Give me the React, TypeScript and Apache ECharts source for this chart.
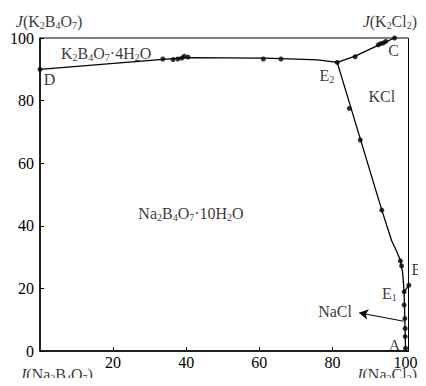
import React, { useEffect, useRef } from "react";
import * as echarts from "echarts";

// ---- data ----
const xTickValues = [20, 40, 60, 80, 100];

// phase boundary curves [J(Na2Cl2), J(K2B4O7)]
const curveDE2 = [[0, 90], [33.6, 93.2], [40.5, 93.7], [61, 93.6], [66, 93.4], [76, 93.0], [81.3, 92.2]];
const curveE2C = [[81.3, 92.2], [86.2, 94.2], [93.5, 98.2], [97, 100]];
const curveE2E1 = [[81.3, 92.2], [93.5, 45], [96.2, 35.2], [97.7, 31.5], [98.6, 28.8], [99.2, 25], [99.6, 18.9]];
const curveE1A = [[99.6, 18.9], [99.8, 10], [100, 0]];
const curveBE1 = [[100.9, 21], [99.6, 18.9]];

// experimental points
const pointsX = [0, 33.6, 36.4, 37.7, 38.8, 39.5, 40.5, 61.1, 65.9, 81.3, 86.2, 92.5, 93.2, 93.9, 94.6, 97,
  84.6, 87.6, 93.5, 98.6, 98.9, 100.9, 99.6, 99.6, 99.8, 99.9, 99.9, 100];
const pointsY = [90, 93.3, 93.1, 93.3, 93.6, 94.2, 93.9, 93.3, 93.3, 92.2, 94.0, 97.8, 98.2, 98.4, 98.9, 100,
  77.5, 67.4, 45.0, 28.8, 27.2, 21, 18.9, 14.7, 10.4, 7.2, 4.6, 0.9];

// NaCl arrow (from line to label)
const arrowFrom = [99.5, 9.5];
const arrowTo = [87.3, 12.2];

// annotations
const annText = [
  "{it|J}(K{sub|2}B{sub|4}O{sub|7})",
  "{it|J}(K{sub|2}Cl{sub|2})",
  "{it|J}(Na{sub|2}B{sub|4}O{sub|7})",
  "{it|J}(Na{sub|2}Cl{sub|2})",
  "K{sub|2}B{sub|4}O{sub|7}·4H{sub|2}O",
  "D",
  "E{sub|2}",
  "C",
  "KCl",
  "Na{sub|2}B{sub|4}O{sub|7}·10H{sub|2}O",
  "B",
  "E{sub|1}",
  "NaCl",
  "A",
];
const annX = [2.5, 95.7, 4.4, 94.7, 18.1, 2.6, 78.5, 96.7, 93.5, 41.3, 103.1, 95.6, 80.7, 97.0];
const annY = [105.3, 105.3, -7.4, -7.4, 95.0, 86.6, 88.0, 96.0, 81.2, 43.8, 25.9, 18.3, 12.5, 1.9];

const FONT = "'Liberation Serif', 'Times New Roman', serif";

export default function App() {
  const ref = useRef<HTMLDivElement>(null);
  useEffect(() => {
    if (!ref.current) return;
    const chart = echarts.init(ref.current, null, { renderer: "svg" });
    const lineSeries = (data: number[][]) => ({
      type: "line",
      data,
      symbol: "none",
      clip: false,
      lineStyle: { color: "#000", width: 1.3 },
      silent: true,
    });
    chart.setOption({
      animation: false,
      backgroundColor: "#fff",
      textStyle: { fontFamily: FONT },
      grid: {
        left: 40,
        top: 38,
        right: 17.5,
        bottom: 35,
        show: true,
        borderColor: "#000",
        borderWidth: 1,
        backgroundColor: "transparent",
      },
      xAxis: {
        type: "value",
        min: 0,
        max: 100.8,
        splitLine: { show: false },
        axisLine: { lineStyle: { color: "#000", width: 1.5 } },
        axisTick: { inside: true, length: 4, customValues: xTickValues, lineStyle: { color: "#000" } },
        axisLabel: {
          customValues: xTickValues,
          color: "#000",
          fontSize: 16,
          lineHeight: 14,
          fontFamily: FONT,
          margin: 4,
        },
      },
      yAxis: {
        type: "value",
        min: 0,
        max: 100,
        interval: 20,
        splitLine: { show: false },
        axisLine: { lineStyle: { color: "#000", width: 1.5 } },
        axisTick: { inside: true, length: 4, lineStyle: { color: "#000" } },
        axisLabel: { color: "#000", fontSize: 16, lineHeight: 14, fontFamily: FONT, margin: 6 },
      },
      series: [
        lineSeries(curveDE2),
        lineSeries(curveE2C),
        lineSeries(curveE2E1),
        lineSeries(curveE1A),
        {
          ...lineSeries(curveBE1),
          markLine: {
            silent: true,
            symbol: ["none", "arrow"],
            symbolSize: [8, 9],
            label: { show: false },
            lineStyle: { color: "#000", width: 1, type: "solid" },
            data: [[{ coord: arrowFrom }, { coord: arrowTo }]],
          },
        },
        {
          type: "scatter",
          data: pointsX.map((x, i) => [x, pointsY[i]]),
          symbol: "circle",
          symbolSize: 5,
          clip: false,
          itemStyle: { color: "#000" },
          silent: true,
        },
        {
          type: "scatter",
          data: annX.map((x, i) => ({ value: [x, annY[i]], name: annText[i] })),
          symbolSize: 0,
          clip: false,
          silent: true,
          itemStyle: { color: "transparent" },
          label: {
            show: true,
            position: "inside",
            align: "center",
            verticalAlign: "middle",
            formatter: (p: any) => p.name,
            color: "#000",
            fontSize: 16,
            fontFamily: FONT,
            lineHeight: 18,
            rich: {
              it: { fontStyle: "italic", fontSize: 16, fontFamily: FONT, color: "#000", lineHeight: 18 },
              sub: { fontSize: 10, fontFamily: FONT, color: "#000", verticalAlign: "bottom", lineHeight: 11 },
            },
          },
        },
      ],
    });
    return () => chart.dispose();
  }, []);
  return <div ref={ref} style={{ width: 426, height: 386, margin: -8 }} />;
}
